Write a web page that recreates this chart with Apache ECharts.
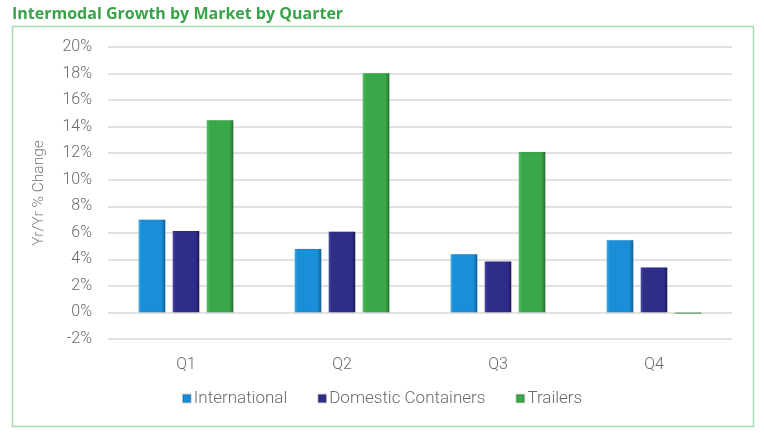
<!DOCTYPE html>
<html>
<head>
<meta charset="utf-8">
<script src="https://cdn.jsdelivr.net/npm/echarts@6/dist/echarts.min.js"></script>
<style>
html,body{margin:0;padding:0;background:#fff;}
#c{width:764px;height:438px;}
</style>
</head>
<body>
<div id="c"></div>
<script>
const categories = ['Q1', 'Q2', 'Q3', 'Q4'];
const international = [7.0, 4.8, 4.4, 5.45];
const domestic = [6.15, 6.1, 3.85, 3.4];
const trailers = [14.5, 18.05, 12.1, -0.1];
const seriesNames = ['International', 'Domestic Containers', 'Trailers'];

function grad(light, base, dark) {
  return new echarts.graphic.LinearGradient(0, 0, 1, 0, [
    {offset: 0, color: light},
    {offset: 0.12, color: base},
    {offset: 0.85, color: base},
    {offset: 1, color: dark}
  ]);
}
const styles = [
  {color: grad('#3fb0ee', '#1a8ed6', '#0c5d94'), legend: '#1a8ed6'},
  {color: grad('#4d4cae', '#2e2d87', '#1b1a5a'), legend: '#2e2d87'},
  {color: grad('#5cc46a', '#3aa848', '#22702c'), legend: '#3aa848'}
];
const datasets = [international, domestic, trailers];

const chart = echarts.init(document.getElementById('c'));
chart.setOption({
  backgroundColor: '#ffffff',
  animation: false,
  title: {
    text: 'Intermodal Growth by Market by Quarter',
    left: 7, top: 1,
    textStyle: {color: '#3aa34a', fontFamily: 'Open Sans', fontWeight: 'bold', fontSize: 16}
  },
  graphic: [{
    type: 'rect', shape: {x: 12.5, y: 26.5, width: 741, height: 400},
    style: {fill: 'none', stroke: '#a9d8b0', lineWidth: 1.5}, silent: true, z: -1
  }],
  legend: {
    bottom: 26, left: 'center',
    itemWidth: 8, itemHeight: 8, itemGap: 30,
    textStyle: {color: '#6a6a6a', fontFamily: 'Roboto', fontWeight: 300, fontSize: 17, padding: [0,0,0,-2]},
    data: seriesNames.map((n, i) => ({name: n, icon: 'rect', itemStyle: {color: styles[i].legend}}))
  },
  grid: {left: 108, right: 32, top: 47, bottom: 99, outerBoundsMode: 'none', containLabel: false},
  xAxis: {
    type: 'category', data: categories,
    axisLine: {show: false}, axisTick: {show: false},
    axisLabel: {color: '#6a6a6a', fontFamily: 'Roboto', fontWeight: 300, fontSize: 16, margin: 18}
  },
  yAxis: {
    type: 'value', min: -2, max: 20, interval: 2,
    name: 'Yr/Yr % Change', nameLocation: 'middle', nameGap: 61, nameRotate: 90,
    nameTextStyle: {color: '#7a7a7a', fontFamily: 'Roboto', fontWeight: 300, fontSize: 15.5},
    axisLine: {show: false}, axisTick: {show: false},
    axisLabel: {color: '#6a6a6a', fontFamily: 'Roboto', fontWeight: 300, fontSize: 16, margin: 16, formatter: v => v + '%'},
    splitLine: {lineStyle: {color: '#d9d9d9', width: 1.5}}
  },
  series: datasets.map((d, i) => ({
    name: seriesNames[i], type: 'bar', data: d,
    barWidth: 27, barGap: '26%',
    itemStyle: {color: styles[i].color, borderColor: 'rgba(0,0,0,0.15)', borderWidth: 0.5}
  }))
});
</script>
</body>
</html>
